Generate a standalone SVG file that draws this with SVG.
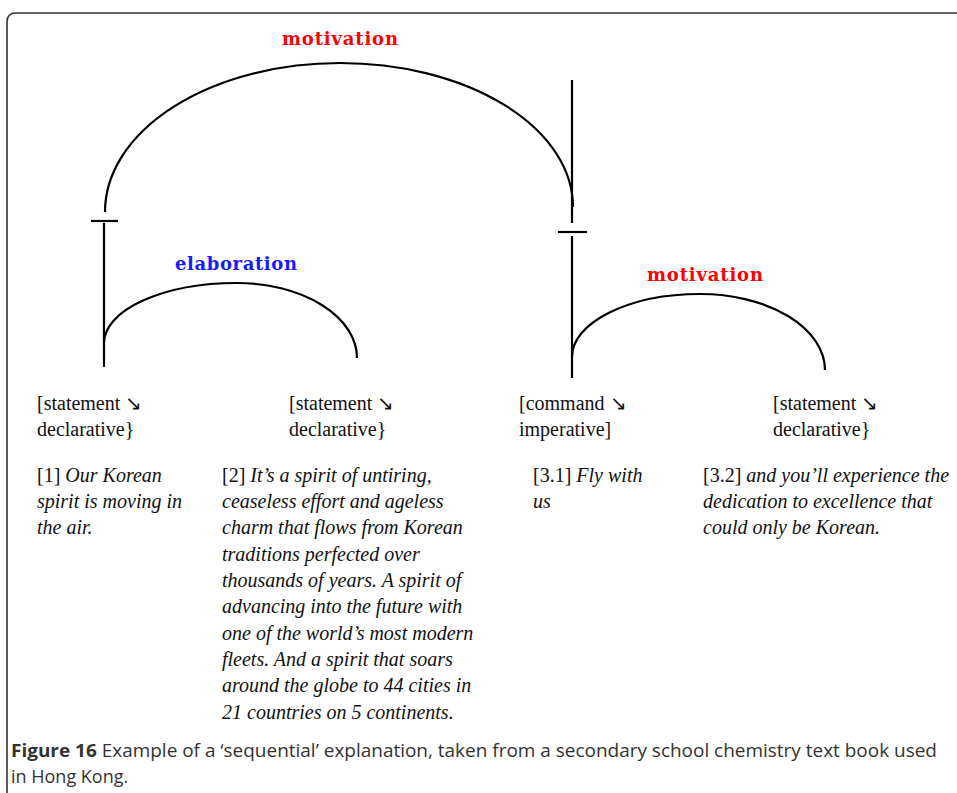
<svg xmlns="http://www.w3.org/2000/svg" width="957" height="793" viewBox="0 0 957 793">
<style>
.frame{fill:none;stroke:#333;stroke-width:1.6}
.arc{fill:none;stroke:#000;stroke-width:2.2}
.rel{font-family:"DejaVu Serif","Liberation Serif",serif;font-weight:bold;font-size:18px}
.red{fill:#ff0000}
.blue{fill:#1a1aff}
.lab{font-family:"Liberation Serif",serif;font-size:20px;fill:#111}
.txt{font-family:"Liberation Serif",serif;font-size:20px;font-style:italic;fill:#111}
.up{font-style:normal}
.cap{font-family:"Open Sans","Liberation Sans",sans-serif;font-size:18px;fill:#333}
</style>
<rect x="0" y="0" width="957" height="793" fill="#fff"/>
<path class="frame" d="M7 793 V22 Q7 13 16 13 H957"/>
<g id="connectors">
<path class="arc" d="M105 212 A235 149 0 0 1 340 63 A233 144 0 0 1 573 207"/>
<line class="arc" x1="572" y1="80" x2="572" y2="223"/>
<line class="arc" x1="91" y1="221" x2="118" y2="221"/>
<line class="arc" x1="104" y1="223" x2="104" y2="367"/>
<line class="arc" x1="558" y1="232" x2="587" y2="232"/>
<line class="arc" x1="572" y1="236" x2="572" y2="378"/>
<path class="arc" d="M104 343 A133 60 0 0 1 237 283 A120 75 0 0 1 357 358"/>
<path class="arc" d="M572 357 A128 63 0 0 1 700 294 A125 76 0 0 1 825 370"/>
<text class="rel red" x="340" y="45" text-anchor="middle" textLength="116">motivation</text>
<text class="rel blue" x="236" y="270" text-anchor="middle" textLength="122">elaboration</text>
<text class="rel red" x="705" y="281" text-anchor="middle" textLength="116">motivation</text>
</g>
<g id="node1">
<text class="lab" x="37" y="410">[statement ↘</text>
<text class="lab" x="37" y="436">declarative}</text>
<text class="txt" x="37" y="482"><tspan class="up">[1] </tspan>Our Korean</text>
<text class="txt" x="37" y="508">spirit is moving in</text>
<text class="txt" x="37" y="534">the air.</text>
</g>
<g id="node2">
<text class="lab" x="289" y="410">[statement ↘</text>
<text class="lab" x="289" y="436">declarative}</text>
<text class="txt" x="222" y="482"><tspan class="up">[2] </tspan>It’s a spirit of untiring,</text>
<text class="txt" x="222" y="508">ceaseless effort and ageless</text>
<text class="txt" x="222" y="534">charm that flows from Korean</text>
<text class="txt" x="222" y="561">traditions perfected over</text>
<text class="txt" x="222" y="587">thousands of years.  A spirit of</text>
<text class="txt" x="222" y="613">advancing into the future with</text>
<text class="txt" x="222" y="640">one of the world’s most modern</text>
<text class="txt" x="222" y="666">fleets. And a spirit that soars</text>
<text class="txt" x="222" y="692">around the globe to 44 cities in</text>
<text class="txt" x="222" y="719">21 countries on 5 continents.</text>
</g>
<g id="node3">
<text class="lab" x="519" y="410">[command ↘</text>
<text class="lab" x="519" y="436">imperative]</text>
<text class="txt" x="533" y="482"><tspan class="up">[3.1] </tspan>Fly with</text>
<text class="txt" x="533" y="508">us</text>
</g>
<g id="node4">
<text class="lab" x="773" y="410">[statement ↘</text>
<text class="lab" x="773" y="436">declarative}</text>
<text class="txt" x="703" y="482"><tspan class="up">[3.2] </tspan>and you’ll experience the</text>
<text class="txt" x="703" y="508">dedication to excellence that</text>
<text class="txt" x="703" y="534">could only be Korean.</text>
</g>
<g id="caption">
<text class="cap" x="11" y="757" textLength="926" lengthAdjust="spacingAndGlyphs"><tspan font-weight="bold">Figure 16</tspan> Example of a ‘sequential’ explanation, taken from a secondary school chemistry text book used</text>
<text class="cap" x="11" y="783">in Hong Kong.</text>
</g>
</svg>
